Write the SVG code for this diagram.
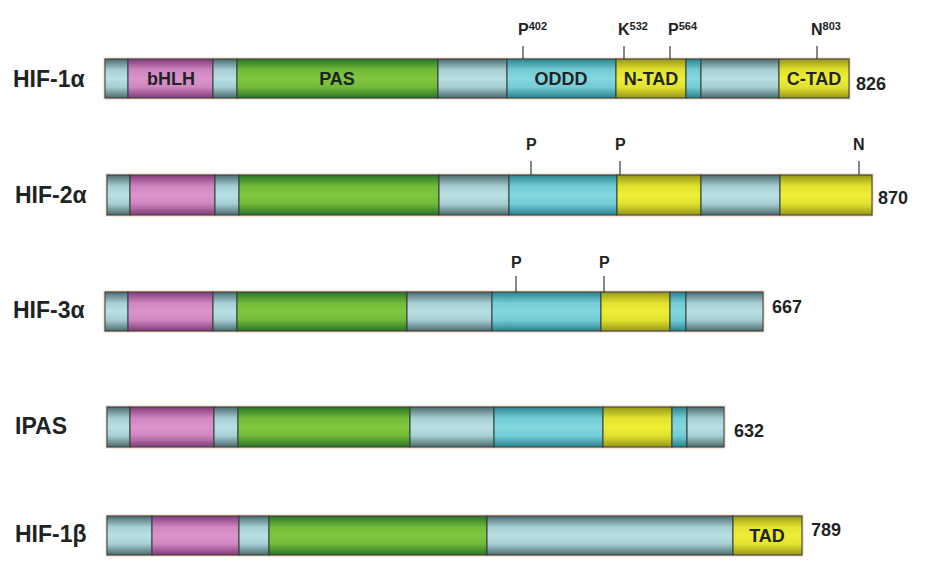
<svg xmlns="http://www.w3.org/2000/svg" width="929" height="575" viewBox="0 0 929 575">
<defs>
<linearGradient id="gGray" x1="0" y1="0" x2="0" y2="1">
<stop offset="0" stop-color="#4d6a6e"/><stop offset="0.28" stop-color="#a6cfd3"/><stop offset="0.5" stop-color="#b9e0e3"/><stop offset="0.72" stop-color="#a6cfd3"/><stop offset="1" stop-color="#4d6a6e"/>
</linearGradient>
<linearGradient id="gMag" x1="0" y1="0" x2="0" y2="1">
<stop offset="0" stop-color="#823c78"/><stop offset="0.28" stop-color="#cf86c0"/><stop offset="0.5" stop-color="#da94ca"/><stop offset="0.72" stop-color="#cf86c0"/><stop offset="1" stop-color="#823c78"/>
</linearGradient>
<linearGradient id="gGreen" x1="0" y1="0" x2="0" y2="1">
<stop offset="0" stop-color="#2a7428"/><stop offset="0.28" stop-color="#72ba38"/><stop offset="0.5" stop-color="#82c63e"/><stop offset="0.72" stop-color="#72ba38"/><stop offset="1" stop-color="#2a7428"/>
</linearGradient>
<linearGradient id="gCyan" x1="0" y1="0" x2="0" y2="1">
<stop offset="0" stop-color="#28848c"/><stop offset="0.28" stop-color="#74ccd6"/><stop offset="0.5" stop-color="#84d6de"/><stop offset="0.72" stop-color="#74ccd6"/><stop offset="1" stop-color="#28848c"/>
</linearGradient>
<linearGradient id="gYel" x1="0" y1="0" x2="0" y2="1">
<stop offset="0" stop-color="#96961a"/><stop offset="0.28" stop-color="#e2e22e"/><stop offset="0.5" stop-color="#eeee38"/><stop offset="0.72" stop-color="#e2e22e"/><stop offset="1" stop-color="#96961a"/>
</linearGradient>
</defs>
<style>
.seg{stroke:#2e3c3c;stroke-width:1}
.halo{fill:none;stroke:#f6cdb8;stroke-width:3}
.gy{fill:url(#gGray)}
.mg{fill:url(#gMag)}
.gr{fill:url(#gGreen)}
.cy{fill:url(#gCyan)}
.ye{fill:url(#gYel)}
text{font-family:"Liberation Sans",Arial,sans-serif;font-weight:bold;fill:#1e2424}
.name{font-size:23px}
.len{font-size:18px}
.dom{font-size:18px;text-anchor:middle}
.site{font-size:16px}
.sup{font-size:11px}
.tick{stroke:#2e3c3c;stroke-width:1.2}
</style>
<rect width="929" height="575" fill="#ffffff"/>

<g id="HIF-1a">
<rect class="halo" x="105" y="59" width="744" height="39"/>
<rect class="seg gy" x="105" y="59" width="23" height="39"/>
<rect class="seg mg" x="128" y="59" width="85" height="39"/>
<rect class="seg gy" x="213" y="59" width="24" height="39"/>
<rect class="seg gr" x="237" y="59" width="201" height="39"/>
<rect class="seg gy" x="438" y="59" width="69" height="39"/>
<rect class="seg cy" x="507" y="59" width="109" height="39"/>
<rect class="seg ye" x="616" y="59" width="70" height="39"/>
<rect class="seg cy" x="686" y="59" width="15" height="39"/>
<rect class="seg gy" x="701" y="59" width="78" height="39"/>
<rect class="seg ye" x="779" y="59" width="70" height="39"/>
<text class="name" x="13" y="87">HIF-1α</text>
<text class="dom" x="171" y="85">bHLH</text>
<text class="dom" x="337" y="85">PAS</text>
<text class="dom" x="561" y="85">ODDD</text>
<text class="dom" x="651" y="85">N-TAD</text>
<text class="dom" x="814" y="85">C-TAD</text>
<text class="len" x="856" y="90">826</text>
<text class="site" x="518" y="35">P<tspan class="sup" dy="-5">402</tspan></text>
<text class="site" x="618" y="35">K<tspan class="sup" dy="-5">532</tspan></text>
<text class="site" x="668" y="35">P<tspan class="sup" dy="-5">564</tspan></text>
<text class="site" x="811" y="35">N<tspan class="sup" dy="-5">803</tspan></text>
</g>

<g id="HIF-2a">
<rect class="halo" x="107" y="175" width="765" height="40"/>
<rect class="seg gy" x="107" y="175" width="23" height="40"/>
<rect class="seg mg" x="130" y="175" width="85" height="40"/>
<rect class="seg gy" x="215" y="175" width="24" height="40"/>
<rect class="seg gr" x="239" y="175" width="200" height="40"/>
<rect class="seg gy" x="439" y="175" width="70" height="40"/>
<rect class="seg cy" x="509" y="175" width="108" height="40"/>
<rect class="seg ye" x="617" y="175" width="84" height="40"/>
<rect class="seg gy" x="701" y="175" width="79" height="40"/>
<rect class="seg ye" x="780" y="175" width="92" height="40"/>
<text class="name" x="15" y="203">HIF-2α</text>
<text class="len" x="878" y="204">870</text>
<text class="site" x="526" y="150">P</text>
<text class="site" x="615" y="150">P</text>
<text class="site" x="853" y="150">N</text>
</g>

<g id="HIF-3a">
<rect class="halo" x="105" y="292" width="658" height="39"/>
<rect class="seg gy" x="105" y="292" width="23" height="39"/>
<rect class="seg mg" x="128" y="292" width="85" height="39"/>
<rect class="seg gy" x="213" y="292" width="24" height="39"/>
<rect class="seg gr" x="237" y="292" width="170" height="39"/>
<rect class="seg gy" x="407" y="292" width="85" height="39"/>
<rect class="seg cy" x="492" y="292" width="109" height="39"/>
<rect class="seg ye" x="601" y="292" width="69" height="39"/>
<rect class="seg cy" x="670" y="292" width="16" height="39"/>
<rect class="seg gy" x="686" y="292" width="77" height="39"/>
<text class="name" x="13" y="318">HIF-3α</text>
<text class="len" x="772" y="313">667</text>
<text class="site" x="511" y="268">P</text>
<text class="site" x="599" y="268">P</text>
</g>

<g id="IPAS">
<rect class="halo" x="107" y="407" width="617" height="40"/>
<rect class="seg gy" x="107" y="407" width="23" height="40"/>
<rect class="seg mg" x="130" y="407" width="84" height="40"/>
<rect class="seg gy" x="214" y="407" width="24" height="40"/>
<rect class="seg gr" x="238" y="407" width="172" height="40"/>
<rect class="seg gy" x="410" y="407" width="84" height="40"/>
<rect class="seg cy" x="494" y="407" width="109" height="40"/>
<rect class="seg ye" x="603" y="407" width="69" height="40"/>
<rect class="seg cy" x="672" y="407" width="15" height="40"/>
<rect class="seg gy" x="687" y="407" width="37" height="40"/>
<text class="name" x="15" y="434">IPAS</text>
<text class="len" x="734" y="437">632</text>
</g>

<g id="HIF-1b">
<rect class="halo" x="107" y="516" width="695" height="39"/>
<rect class="seg gy" x="107" y="516" width="45" height="39"/>
<rect class="seg mg" x="152" y="516" width="87" height="39"/>
<rect class="seg gy" x="239" y="516" width="30" height="39"/>
<rect class="seg gr" x="269" y="516" width="218" height="39"/>
<rect class="seg gy" x="487" y="516" width="246" height="39"/>
<rect class="seg ye" x="733" y="516" width="69" height="39"/>
<text class="name" x="15" y="542">HIF-1β</text>
<text class="dom" x="767" y="542">TAD</text>
<text class="len" x="811" y="536">789</text>
</g>

<g id="connectors">
<line class="tick" x1="523" y1="46" x2="523" y2="59"/>
<line class="tick" x1="624" y1="46" x2="624" y2="59"/>
<line class="tick" x1="670" y1="46" x2="670" y2="59"/>
<line class="tick" x1="817" y1="46" x2="817" y2="59"/>
<line class="tick" x1="531" y1="161" x2="531" y2="175"/>
<line class="tick" x1="620" y1="161" x2="620" y2="175"/>
<line class="tick" x1="859" y1="161" x2="859" y2="175"/>
<line class="tick" x1="516" y1="276" x2="516" y2="292"/>
<line class="tick" x1="604" y1="276" x2="604" y2="292"/>
</g>
</svg>
